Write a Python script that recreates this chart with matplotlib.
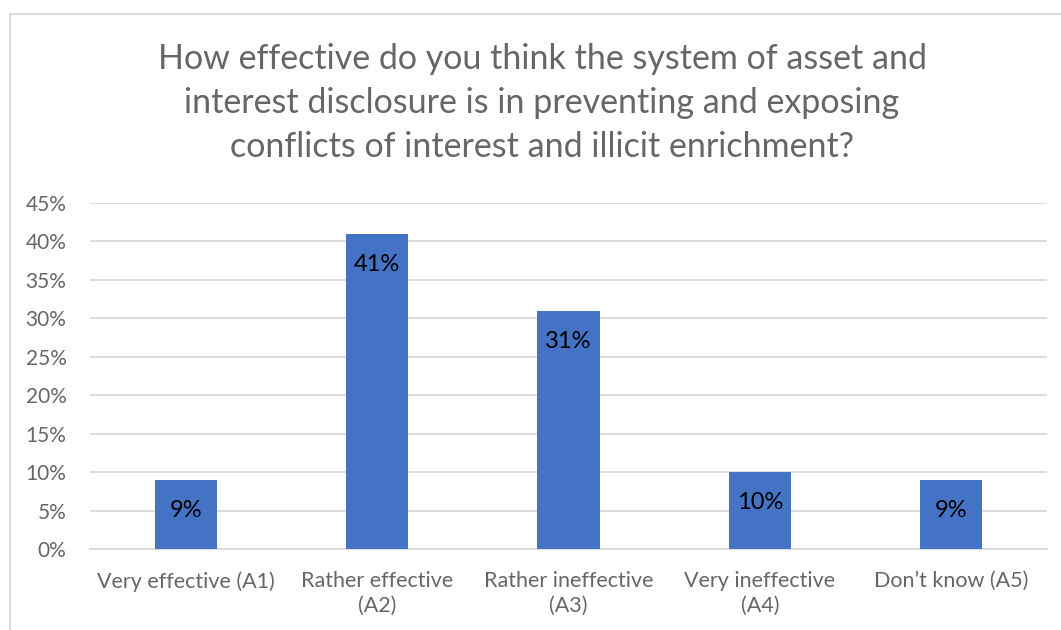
import matplotlib.pyplot as plt
from matplotlib.lines import Line2D
from matplotlib.ticker import PercentFormatter

categories = ["Very effective (A1)", "Rather effective\n(A2)", "Rather ineffective\n(A3)",
              "Very ineffective\n(A4)", "Don\u2019t know (A5)"]
shares = [0.09, 0.41, 0.31, 0.10, 0.09]
labels = ["9%", "41%", "31%", "10%", "9%"]
yticks = [0, 0.05, 0.10, 0.15, 0.20, 0.25, 0.30, 0.35, 0.40, 0.45]

title = ("How effective do you think the system of asset and\n"
         "interest disclosure is in preventing and exposing\n"
         "conflicts of interest and illicit enrichment?")

plt.rcParams["font.family"] = ["Lato", "DejaVu Sans"]
grey = "#666666"
grid = "#d9d9d9"
blue = "#4472c4"

fig = plt.figure(figsize=(10.61, 6.30), dpi=100)
ax = fig.add_axes([90 / 1061, 1 - 549 / 630, 957 / 1061, 346 / 630])

x = range(len(categories))
ax.bar(x, shares, width=0.324, color=blue, zorder=3)
for xi, v, lab in zip(x, shares, labels):
    ax.annotate(lab, (xi, v), xytext=(0, -22), textcoords="offset points",
                ha="center", va="center", fontsize=17, color="black", zorder=4)

ax.set_xlim(-0.5, len(categories) - 0.5)
ax.set_ylim(0, 0.45)
ax.set_yticks(yticks)
ax.yaxis.set_major_formatter(PercentFormatter(1.0, decimals=0))
ax.set_xticks(list(x))
ax.set_xticklabels(categories, linespacing=1.3)
ax.tick_params(axis="both", length=0, labelsize=15.5, colors=grey)
ax.tick_params(axis="x", pad=16)
ax.tick_params(axis="y", labelsize=15, pad=17)
ax.grid(axis="y", color=grid, linewidth=1.3, zorder=0)
for s in ["top", "right", "left"]:
    ax.spines[s].set_visible(False)
ax.spines["bottom"].set_color(grid)
ax.spines["bottom"].set_linewidth(1.3)

fig.text(542 / 1061, 1 - 103 / 630, title, ha="center", va="center", fontsize=24.5,
         color=grey, linespacing=1.45)

# chart frame (runs off the right and bottom edges)
fig.add_artist(Line2D([10 / 1061, 10 / 1061], [0, 1 - 14 / 630], color=grid,
                      linewidth=1.3, transform=fig.transFigure))
fig.add_artist(Line2D([10 / 1061, 1], [1 - 14 / 630, 1 - 14 / 630], color=grid,
                      linewidth=1.3, transform=fig.transFigure))

fig.savefig("out.png", dpi=100)
